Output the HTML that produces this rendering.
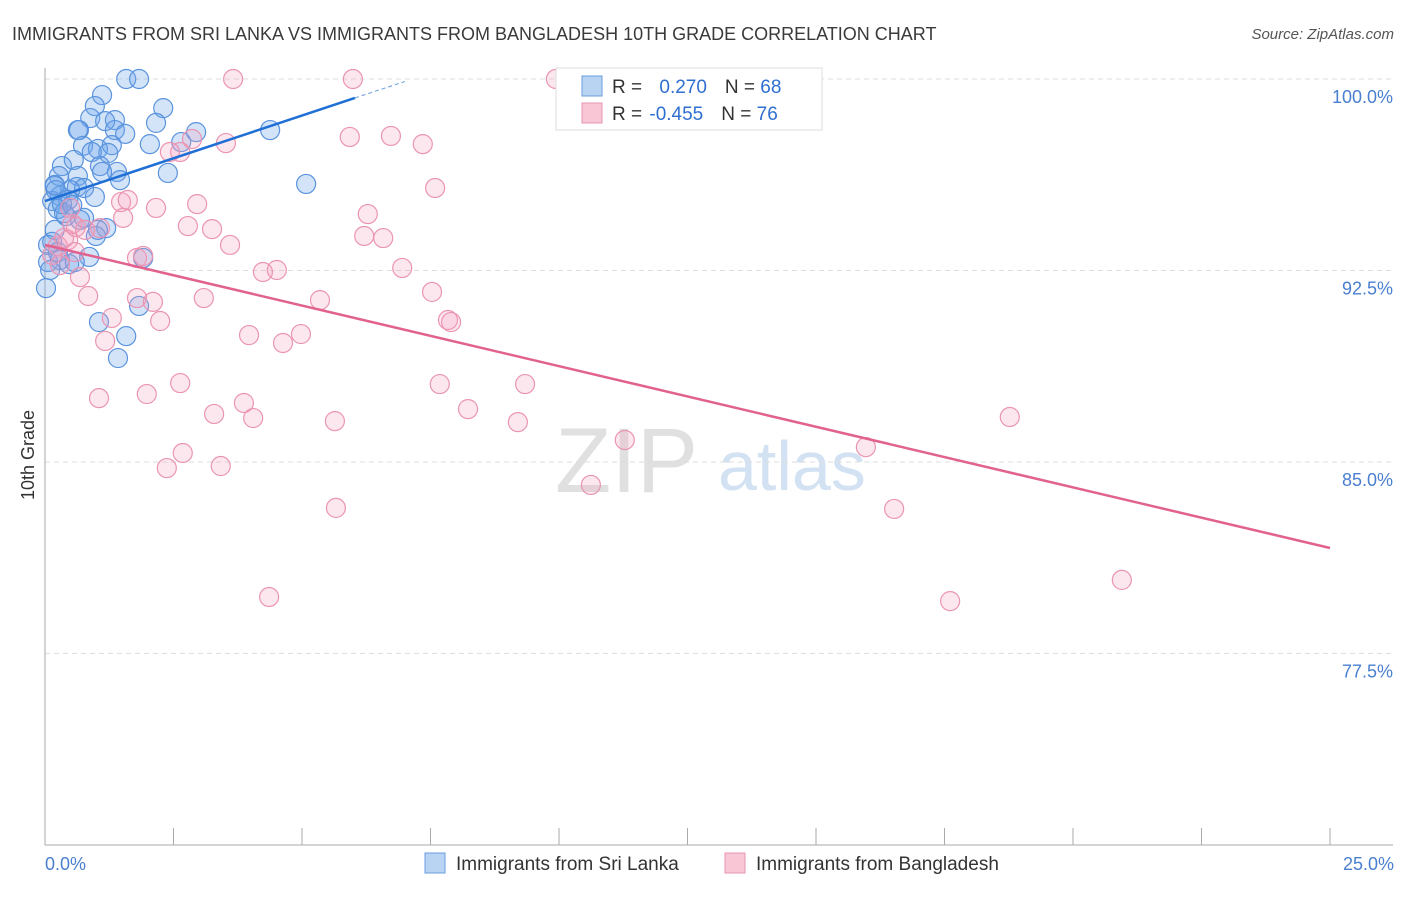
<!DOCTYPE html>
<html><head><meta charset="utf-8"><style>
body{margin:0;background:#fff;font-family:"Liberation Sans",sans-serif}
svg text{font-family:"Liberation Sans",sans-serif}
</style></head><body>
<svg id="chart" width="1406" height="892">
<text x="12" y="40" font-size="18" fill="#3a3a3a">IMMIGRANTS FROM SRI LANKA VS IMMIGRANTS FROM BANGLADESH 10TH GRADE CORRELATION CHART</text>
<text x="1394" y="39" font-size="15" fill="#555" text-anchor="end" font-style="italic">Source: ZipAtlas.com</text>
<g><text x="555" y="492" font-size="92" font-family="Liberation Serif" fill="#e0e0e0">ZIP</text><text x="718" y="490" font-size="70" fill="#d3e2f3">atlas</text></g>
<g id="grid"></g><g id="axes"></g><g id="points"></g><g id="lines"></g>
<text x="34" y="455" font-size="18" fill="#333" text-anchor="middle" transform="rotate(-90 34 455)">10th Grade</text>
<text x="45" y="870" font-size="18" fill="#4a7fd0">0.0%</text>
<text x="1394" y="870" font-size="18" fill="#4a7fd0" text-anchor="end">25.0%</text>
<g>
<rect x="556" y="68" width="266" height="62" fill="#fff" stroke="#ddd"/>
<rect x="582" y="76" width="20" height="20" fill="#b9d3f3" stroke="#6a9ee0"/>
<rect x="582" y="103" width="20" height="20" fill="#f9c6d6" stroke="#e895b0"/>
<text x="612" y="93" font-size="19" fill="#333">R = <tspan fill="#2f6fd0" dx="12">0.270</tspan><tspan dx="18" fill="#333">N = </tspan><tspan fill="#2f6fd0">68</tspan></text>
<text x="612" y="120" font-size="19" fill="#333">R = <tspan fill="#2f6fd0" dx="2">-0.455</tspan><tspan dx="18" fill="#333">N = </tspan><tspan fill="#2f6fd0">76</tspan></text>
</g>
<g>
<rect x="425" y="853" width="20" height="20" fill="#b9d3f3" stroke="#6a9ee0"/>
<text x="456" y="870" font-size="19" fill="#333">Immigrants from Sri Lanka</text>
<rect x="725" y="853" width="20" height="20" fill="#f9c6d6" stroke="#e895b0"/>
<text x="756" y="870" font-size="19" fill="#333">Immigrants from Bangladesh</text>
</g>
</svg>
<script>
const yTicks=[100,92.5,85,77.5];
const yTickLabels=["100.0%","92.5%","85.0%","77.5%"];
const xTicks=[0,2.5,5,7.5,10,12.5,15,17.5,20,22.5,25];
const blueX=[1.58,1.83,1.11,2.30,0.97,0.88,1.36,1.17,2.16,0.66,0.64,1.36,1.56,2.94,4.38,2.04,2.65,0.74,1.03,1.30,1.23,0.91,0.33,0.56,1.07,2.39,1.40,1.46,0.27,0.64,1.11,0.19,0.62,0.76,5.08,0.49,0.29,0.97,0.14,0.45,0.25,0.41,0.37,0.76,1.19,0.99,0.14,0.25,0.47,0.86,1.91,0.06,0.02,1.83,1.05,1.58,1.42,0.19,0.33,0.53,0.68,1.03,0.19,0.06,0.29,0.58,0.10,0.21];
const blueY=[100,100,99.37,98.86,98.94,98.47,98.39,98.35,98.28,98.0,98.0,98.0,97.85,97.92,98.0,97.45,97.53,97.38,97.26,97.41,97.10,97.14,96.59,96.83,96.59,96.32,96.36,96.04,96.20,96.20,96.36,95.81,95.77,95.73,95.89,95.65,95.42,95.38,95.22,95.26,94.91,94.63,94.75,94.56,94.16,93.85,93.62,93.22,92.75,93.03,92.99,92.83,91.81,91.11,90.48,89.93,89.07,95.85,95.10,95.06,94.48,94.09,94.09,93.50,92.91,92.83,92.52,95.65];
const pinkX=[3.66,5.99,9.94,5.93,6.73,7.35,3.52,2.86,2.63,2.43,7.59,1.48,1.61,2.16,2.96,1.52,6.28,2.78,3.25,1.07,6.21,6.58,3.60,0.45,0.25,0.37,0.53,0.60,1.79,1.91,6.95,4.24,4.51,0.68,0.84,1.79,2.10,3.09,5.35,7.53,7.84,7.90,2.24,1.30,3.97,4.98,4.63,1.17,2.63,7.68,9.34,1.05,1.98,3.87,3.29,8.23,4.05,9.20,5.64,18.77,11.28,15.97,2.68,3.42,2.37,10.62,5.66,16.52,4.36,17.61,20.95,0.29,0.58,0.14,0.78,0.49];
const pinkY=[100,100,100,97.73,97.77,97.45,97.49,97.65,97.14,97.14,95.73,95.18,95.26,94.95,95.10,94.56,94.71,94.24,94.12,94.16,93.85,93.77,93.50,93.69,93.46,93.77,94.32,94.20,92.99,93.07,92.60,92.44,92.52,92.24,91.50,91.42,91.27,91.42,91.34,91.66,90.56,90.48,90.52,90.64,89.97,90.01,89.66,89.74,88.09,88.05,88.05,87.50,87.66,87.31,86.88,87.07,86.72,86.56,86.60,86.76,85.86,85.58,85.35,84.84,84.76,84.10,83.20,83.16,79.71,79.55,80.38,92.71,93.22,93.11,94.09,94.95];
const blueTrendX=[0,6.03];const blueTrendY=[95.22,99.26];
const blueDashX=[6.03,7.0];const blueDashY=[99.26,99.9];
const pinkTrendX=[0,25];const pinkTrendY=[93.5,81.63];
const NS="http://www.w3.org/2000/svg";
const X0=45,X1=1330,Y100=79,PXU=25.53;
function sx(v){return X0+(v/25)*(X1-X0);}
function sy(v){return Y100+(100-v)*PXU;}
function mk(tag,attrs,parent){const e=document.createElementNS(NS,tag);for(const k in attrs)e.setAttribute(k,attrs[k]);document.getElementById(parent).appendChild(e);return e;}
yTicks.forEach((t,i)=>{
 const l=mk('line',{x1:45,x2:1393,y1:sy(t),y2:sy(t),stroke:'#ddd','stroke-dasharray':'5,4'},'grid');
 
 
 const tx=mk('text',{x:1393,y:sy(t)+24,'font-size':18,fill:'#4a7fd0','text-anchor':'end'},'grid');
 tx.textContent=yTickLabels[i];
 
 
});
const ax=mk('line',{x1:45,x2:45,y1:68,y2:845,stroke:'#aaa'},'axes');


const bx=mk('line',{x1:45,x2:1393,y1:845,y2:845,stroke:'#aaa'},'axes');


xTicks.forEach(t=>{
 const l=mk('line',{x1:sx(t),x2:sx(t),y1:828,y2:845,stroke:'#aaa'},'axes');
 
 
});
blueX.forEach((v,i)=>{
 const c=mk('circle',{cx:sx(v),cy:sy(blueY[i]),r:9.5,fill:'rgba(110,165,235,0.3)',stroke:'#5a93dd','stroke-width':1.2},'points');
 
 
});
pinkX.forEach((v,i)=>{
 const c=mk('circle',{cx:sx(v),cy:sy(pinkY[i]),r:9.5,fill:'rgba(245,160,190,0.25)',stroke:'#eb94b2','stroke-width':1.2},'points');
 
 
});
const bl=mk('line',{x1:sx(blueTrendX[0]),y1:sy(blueTrendY[0]),x2:sx(blueTrendX[1]),y2:sy(blueTrendY[1]),stroke:'#1f6fd6','stroke-width':2.5},'lines');


const bd=mk('line',{x1:sx(blueDashX[0]),y1:sy(blueDashY[0]),x2:sx(blueDashX[1]),y2:sy(blueDashY[1]),stroke:'#7fa9e0','stroke-width':1.2,'stroke-dasharray':'4,3'},'lines');


const pl=mk('line',{x1:sx(pinkTrendX[0]),y1:sy(pinkTrendY[0]),x2:sx(pinkTrendX[1]),y2:sy(pinkTrendY[1]),stroke:'#e2628f','stroke-width':2.5},'lines');


</script>
</body></html>
